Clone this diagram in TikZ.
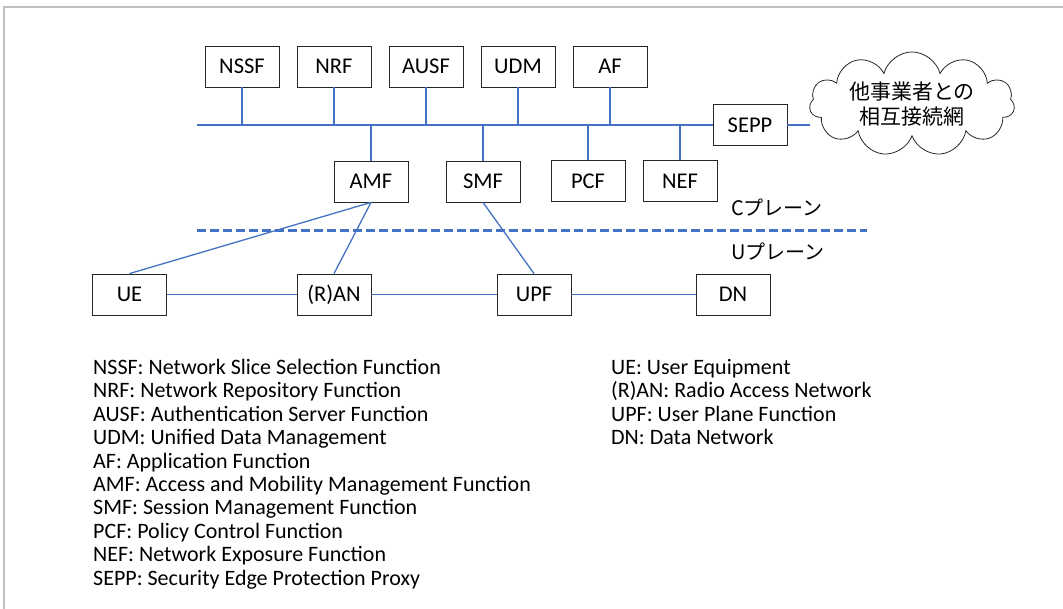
\documentclass[tikz,border=0pt]{standalone}
\usepackage{fontspec}
\setmainfont{Carlito}
\newfontfamily\jpfont{Noto Sans CJK JP}
\usepackage{tikz}
\usetikzlibrary{shapes.symbols}
\definecolor{linkblue}{HTML}{4472C4}
\definecolor{framegray}{HTML}{BFBFBF}

\begin{document}
\begin{tikzpicture}[x=1pt, y=-1pt,
    nf/.style={draw=black!85, line width=0.8pt, minimum width=74pt, minimum height=41pt,
               inner sep=0pt, font=\fontsize{22.5}{26}\selectfont},
    link/.style={draw=linkblue, line width=1.3pt},
    plane/.style={anchor=west, inner sep=0pt, font=\jpfont\fontsize{20}{24}\selectfont},
    legend/.style={anchor=north west, align=left, inner sep=0pt, font=\fontsize{22}{23.4}\selectfont}]
  \useasboundingbox (0,0) rectangle (1063,609);
  \draw[framegray, line width=1.5pt] (1063,7) -- (4,7) -- (4,609);

  % control plane functions
  \node[nf] (nssf) at (242,66.5) {NSSF};
  \node[nf] (nrf)  at (334,66.5) {NRF};
  \node[nf] (ausf) at (426,66.5) {AUSF};
  \node[nf] (udm)  at (518,66.5) {UDM};
  \node[nf] (af)   at (610,66.5) {AF};
  \node[nf] (amf)  at (371,181.5) {AMF};
  \node[nf] (smf)  at (483,181.5) {SMF};
  \node[nf] (pcf)  at (588,181) {PCF};
  \node[nf] (nef)  at (680,181) {NEF};
  \node[nf] (sepp) at (750,125) {SEPP};
  \node[cloud, draw=black!85, line width=0.8pt, cloud puffs=11, aspect=2.6,
        minimum width=205pt, minimum height=76pt, inner sep=0pt, align=center,
        font=\jpfont\fontsize{21}{25}\selectfont] (peer) at (912,104) {他事業者との\\相互接続網};

  % service bus
  \coordinate (busw) at (197,125);
  \draw[link] (busw) -- (sepp.west);
  \foreach \n in {nssf,nrf,ausf,udm,af}
    \draw[link] (\n.south) -- (\n.south |- busw);
  \foreach \n in {amf,smf,pcf,nef}
    \draw[link] (\n.north) -- (\n.north |- busw);
  \draw[link] (sepp.east) -- (sepp.east -| peer.west);

  % C/U split
  \coordinate (cutw) at (197,231);
  \coordinate (cute) at (867,231);
  \draw[linkblue, line width=3pt, dash pattern=on 9pt off 4pt] (cutw) -- (cute);
  \node[plane] (cplane) at (731,208) {Cプレーン};
  \node[plane] (uplane) at (731,252) {Uプレーン};

  % user plane
  \node[nf] (ue)  at (129.5,294.5) {UE};
  \node[nf] (ran) at (334,294.5) {(R)AN};
  \node[nf] (upf) at (534,294.5) {UPF};
  \node[nf] (dn)  at (733,294.5) {DN};
  \draw[link] (ue) -- (ran) -- (upf) -- (dn);
  \draw[link] (amf.south) -- (ue.north);
  \draw[link] (amf.south) -- (ran.north);
  \draw[link] (smf.south) -- (upf.north);

  % abbreviations
  \node[legend] (legl) at (93,359) {NSSF: Network Slice Selection Function\\
    NRF: Network Repository Function\\
    AUSF: Authentication Server Function\\
    UDM: Unified Data Management\\
    AF: Application Function\\
    AMF: Access and Mobility Management Function\\
    SMF: Session Management Function\\
    PCF: Policy Control Function\\
    NEF: Network Exposure Function\\
    SEPP: Security Edge Protection Proxy};
  \node[legend] (legr) at (611,359) {UE: User Equipment\\
    (R)AN: Radio Access Network\\
    UPF: User Plane Function\\
    DN: Data Network};
\end{tikzpicture}
\end{document}
